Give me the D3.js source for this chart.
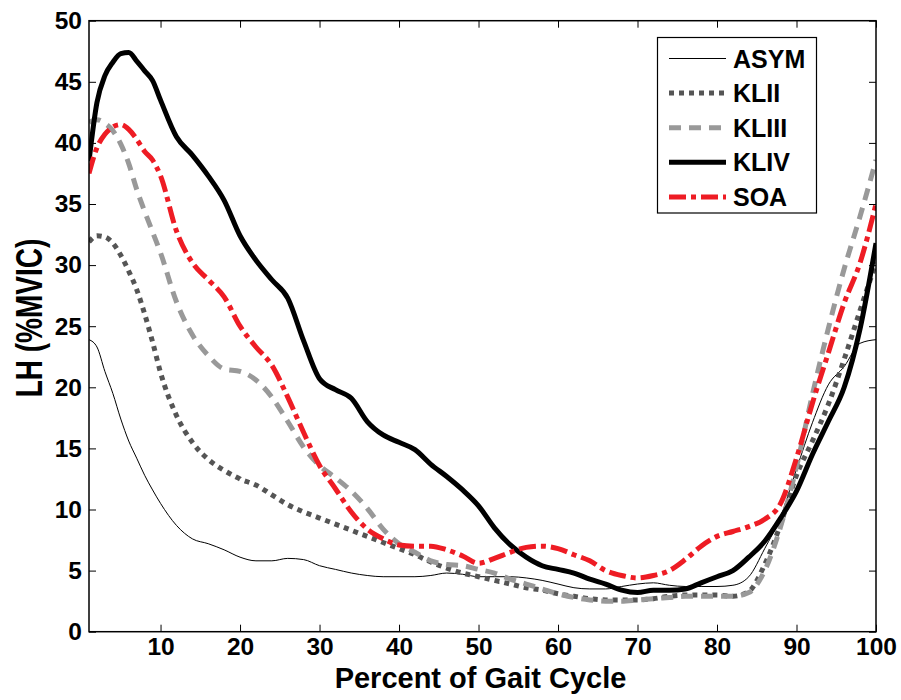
<!DOCTYPE html>
<html>
<head>
<meta charset="utf-8">
<script src="https://cdn.jsdelivr.net/npm/d3@7"></script>
<style>
  body { margin: 0; background: #fff; }
  text { font-family: "Liberation Sans", Arial, sans-serif; font-weight: bold; }
</style>
</head>
<body>
<div id="container"></div>
<script>
// gait cycle sample points (%)
const gait = [1,2,3,4,5,6,7,8,9,10,12,14,16,18,20,22,24,26,28,30,32,34,36,38,40,42,44,46,48,50,
  52,54,56,58,60,62,64,66,68,70,72,74,76,78,80,82,84,86,88,90,92,94,96,98,100];

// series values (%MVIC)
const asym = [23.9,23.3,21.3,19.5,17.4,15.6,14.2,12.8,11.6,10.5,8.7,7.6,7.2,6.7,6.1,5.8,5.8,6.0,5.9,5.4,
  5.1,4.8,4.6,4.5,4.5,4.5,4.6,4.8,4.7,4.5,4.5,4.5,4.4,4.2,3.9,3.6,3.5,3.5,3.7,3.9,
  4.0,3.8,3.7,3.7,3.7,3.8,4.5,6.8,9.4,13.3,17.1,20.2,21.7,23.6,23.9];
const klii = [31.9,32.4,32.3,31.8,30.8,29.5,28.0,26.0,23.7,21.2,17.7,15.5,14.1,13.2,12.5,12.0,11.2,10.4,9.8,9.3,
  8.8,8.3,7.8,7.3,6.8,6.3,5.7,5.2,4.8,4.5,4.2,3.9,3.6,3.4,3.1,2.9,2.7,2.6,2.6,2.6,
  2.7,2.9,3.0,3.0,3.0,2.9,3.3,5.5,8.8,12.8,15.6,18.6,22.3,26.3,30.2];
const kliii = [41.7,41.9,41.6,41.0,39.9,38.3,36.2,34.4,32.7,31.0,27.0,24.3,22.6,21.5,21.3,20.6,19.2,17.2,15.1,13.6,
  12.6,11.5,10.1,8.4,7.2,6.5,5.8,5.5,5.4,5.1,4.8,4.3,3.9,3.5,3.1,2.8,2.6,2.5,2.5,2.6,
  2.7,2.8,2.9,2.9,2.9,2.9,3.2,5.0,8.6,13.5,19.4,24.8,29.7,34.0,38.6];
const kliv = [38.5,43.3,45.5,46.6,47.3,47.4,46.7,45.9,45.1,43.5,40.5,39.0,37.3,35.3,32.4,30.4,28.8,27.3,23.8,20.7,
  19.8,19.1,17.2,16.1,15.5,14.9,13.7,12.7,11.6,10.3,8.5,7.1,6.1,5.4,5.1,4.8,4.3,3.9,3.4,3.2,
  3.4,3.4,3.5,4.0,4.5,5.0,6.1,7.4,9.3,11.5,14.5,17.2,20.0,24.8,31.8];
const soa = [37.5,39.6,40.7,41.3,41.5,41.1,40.3,39.3,38.6,37.3,32.8,30.2,28.8,27.4,25.0,23.3,21.8,19.2,16.3,13.6,
  11.7,9.8,8.4,7.6,7.1,7.0,7.0,6.7,6.2,5.6,6.0,6.5,6.9,7.0,6.8,6.3,5.8,5.0,4.6,4.4,
  4.6,5.0,5.9,7.0,7.8,8.2,8.6,9.2,10.5,14.2,18.7,22.8,26.9,30.2,35.0];

const seriesNames = ["ASYM", "KLII", "KLIII", "KLIV", "SOA"];
const seriesValues = [asym, klii, kliii, kliv, soa];
const xTicks = [10,20,30,40,50,60,70,80,90,100];
const yTicks = [0,5,10,15,20,25,30,35,40,45,50];

// line styles per series
const styles = {
  ASYM:  { color: "#000000", width: 1,   dash: null },
  KLII:  { color: "#555555", width: 5,   dash: "5,5" },
  KLIII: { color: "#999999", width: 5,   dash: "12,8" },
  KLIV:  { color: "#000000", width: 5,   dash: null },
  SOA:   { color: "#ee1c24", width: 5,   dash: "17,5,5,5" }
};

const width = 901;
const height = 700;
const marginTop = 20.7;
const marginLeft = 89;
const plotRight = 876;
const plotBottom = 631.7;

const svg = d3.create("svg")
    .attr("width", width)
    .attr("height", height);

const x = d3.scaleLinear().domain([1, 100]).range([marginLeft, plotRight]);
const y = d3.scaleLinear().domain([0, 50]).range([plotBottom, marginTop]);

svg.append("clipPath").attr("id", "clip")
  .append("rect")
    .attr("x", marginLeft).attr("y", marginTop)
    .attr("width", plotRight - marginLeft).attr("height", plotBottom - marginTop);

// curves
const line = d3.line()
    .x(d => x(d[0]))
    .y(d => y(d[1]))
    .curve(d3.curveMonotoneX);

seriesNames.forEach((name, i) => {
  const st = styles[name];
  svg.append("path")
      .datum(gait.map((g, j) => [g, seriesValues[i][j]]))
      .attr("clip-path", "url(#clip)")
      .attr("fill", "none")
      .attr("stroke", st.color)
      .attr("stroke-width", st.width)
      .attr("stroke-dasharray", st.dash)
      .attr("stroke-linejoin", "round")
      .attr("d", line);
});

// axes (ticks inside, box all round)
const tickLen = 7;
svg.append("g")
    .attr("transform", `translate(0,${plotBottom})`)
    .call(d3.axisBottom(x).tickValues(xTicks).tickSizeInner(-tickLen).tickSizeOuter(0).tickPadding(6))
    .call(g => g.select(".domain").remove())
    .call(g => g.selectAll("text").attr("font-size", 24.5).attr("fill", "#000").attr("font-family", null));

svg.append("g")
    .attr("transform", `translate(${marginLeft},0)`)
    .call(d3.axisLeft(y).tickValues(yTicks).tickSizeInner(-tickLen).tickSizeOuter(0).tickPadding(7))
    .call(g => g.select(".domain").remove())
    .call(g => g.selectAll("text").attr("font-size", 24.5).attr("fill", "#000").attr("font-family", null));

svg.append("g")
    .attr("transform", `translate(0,${marginTop})`)
    .call(d3.axisTop(x).tickValues(xTicks).tickSizeInner(-tickLen).tickSizeOuter(0).tickFormat(""))
    .call(g => g.select(".domain").remove());

svg.append("g")
    .attr("transform", `translate(${plotRight},0)`)
    .call(d3.axisRight(y).tickValues(yTicks).tickSizeInner(-tickLen).tickSizeOuter(0).tickFormat(""))
    .call(g => g.select(".domain").remove());

svg.append("rect")
    .attr("x", marginLeft).attr("y", marginTop)
    .attr("width", plotRight - marginLeft).attr("height", plotBottom - marginTop)
    .attr("fill", "none")
    .attr("stroke", "#000")
    .attr("stroke-width", 1.5);

// axis titles
svg.append("text")
    .attr("x", 480.5)
    .attr("y", 688)
    .attr("text-anchor", "middle")
    .attr("font-size", 29)
    .text("Percent of Gait Cycle");

// the y title is a little squashed along its length, as in the original
svg.append("text")
    .attr("transform", "translate(42,318) rotate(-90) scale(1,1.3)")
    .attr("text-anchor", "middle")
    .attr("font-size", 28)
    .text("LH (%MVIC)");

// legend
const legend = svg.append("g");
legend.append("rect")
    .attr("x", 657.5).attr("y", 37.5)
    .attr("width", 159).attr("height", 175.5)
    .attr("fill", "#fff")
    .attr("stroke", "#000")
    .attr("stroke-width", 1.2);

seriesNames.forEach((name, i) => {
  const st = styles[name];
  const ly = 58.5 + i * 34.6;
  legend.append("line")
      .attr("x1", 669).attr("x2", 726)
      .attr("y1", ly).attr("y2", ly)
      .attr("stroke", st.color)
      .attr("stroke-width", st.width)
      .attr("stroke-dasharray", st.dash);
  legend.append("text")
      .attr("x", 733)
      .attr("y", ly)
      .attr("dy", "0.36em")
      .attr("font-size", 25)
      .text(name);
});

container.append(svg.node());
</script>
</body>
</html>
